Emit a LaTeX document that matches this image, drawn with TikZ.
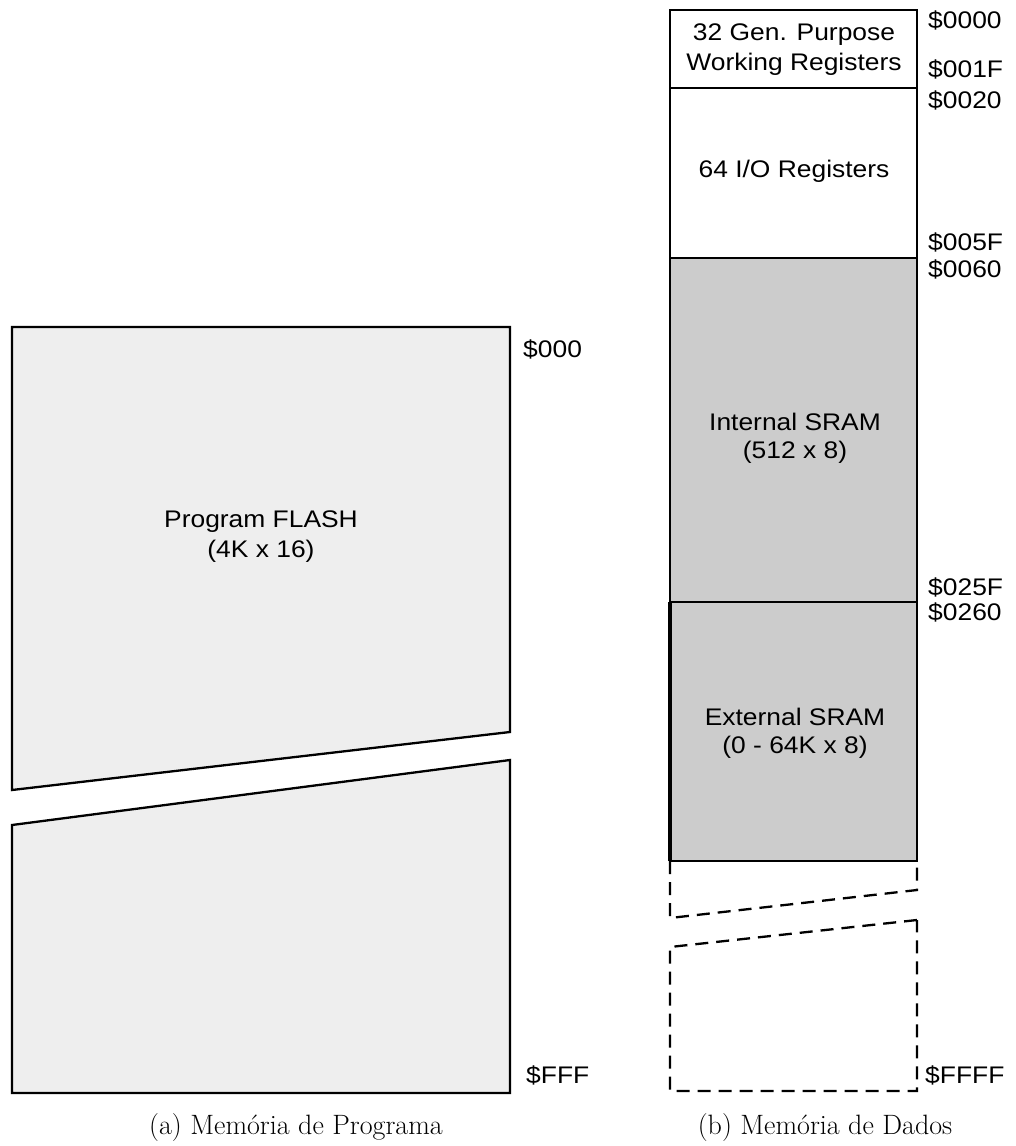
\documentclass[tikz,border=0pt]{standalone}
\usepackage{fontspec}
\newfontfamily\labfont{Liberation Sans}
\definecolor{flashgray}{HTML}{EEEEEE}
\definecolor{sramgray}{HTML}{CCCCCC}
\begin{document}
\begin{tikzpicture}[x=1pt,y=-1pt,
  lbl/.style={font=\labfont\fontsize{24}{30}\selectfont, xscale=1.1, inner sep=0pt, anchor=base},
  addr/.style={lbl, anchor=base west},
  capt/.style={font=\fontsize{28}{32}\selectfont, inner sep=0pt, anchor=base},
  memline/.style={draw=black, line width=2.3pt, line join=miter},
  dashline/.style={draw=black, line width=2.3pt, dash pattern=on 13pt off 8pt}]
\useasboundingbox (0,0) rectangle (1016,1146);

% ---------- (a) Program memory ----------
\path[memline, fill=flashgray] (12,790) -- (12,327) -- (510,327) -- (510,732) -- cycle;
\path[memline, fill=flashgray] (12,825) -- (510,760) -- (510,1093) -- (12,1093) -- cycle;
\node[lbl] (pflash) at (261,527) {Program FLASH};
\node[lbl] (psize) at (261,557) {(4K x 16)};
\node[addr] (p000) at (523,357) {\$000};
\node[addr] (pfff) at (526,1083) {\$FFF};

% ---------- (b) Data memory ----------
\path[memline, fill=white] (670,10) rectangle (917,88);
\path[memline, fill=white] (670,88) rectangle (917,258);
\path[memline, fill=sramgray] (670,258) rectangle (917,602);
\path[memline, fill=sramgray] (670,602) rectangle (917,861);
\draw[line width=3.5pt] (670,602) -- (670,861);
\path[dashline] (670,861) -- (670,918) -- (917,890) -- (917,861);
\path[dashline] (917,920) -- (670,947) -- (670,1091) -- (917,1091) -- cycle;

\node[lbl] (gpr1) at (794,40) {32 Gen. Purpose};
\node[lbl] (gpr2) at (794,70) {Working Registers};
\node[lbl] (io) at (794,177) {64 I/O Registers};
\node[lbl] (isram1) at (795,430) {Internal SRAM};
\node[lbl] (isram2) at (795,458) {(512 x 8)};
\node[lbl] (esram1) at (795,725) {External SRAM};
\node[lbl] (esram2) at (795,753) {(0 - 64K x 8)};

\node[addr] (d0000) at (928,28) {\$0000};
\node[addr] (d001f) at (928,77) {\$001F};
\node[addr] (d0020) at (928,108) {\$0020};
\node[addr] (d005f) at (928,250) {\$005F};
\node[addr] (d0060) at (928,277) {\$0060};
\node[addr] (d025f) at (928,595) {\$025F};
\node[addr] (d0260) at (928,620) {\$0260};
\node[addr] (dffff) at (925,1083) {\$FFFF};

% ---------- captions ----------
\node[capt] (capa) at (296,1134) {(a) Memória de Programa};
\node[capt] (capb) at (825,1134) {(b) Memória de Dados};
\end{tikzpicture}
\end{document}
